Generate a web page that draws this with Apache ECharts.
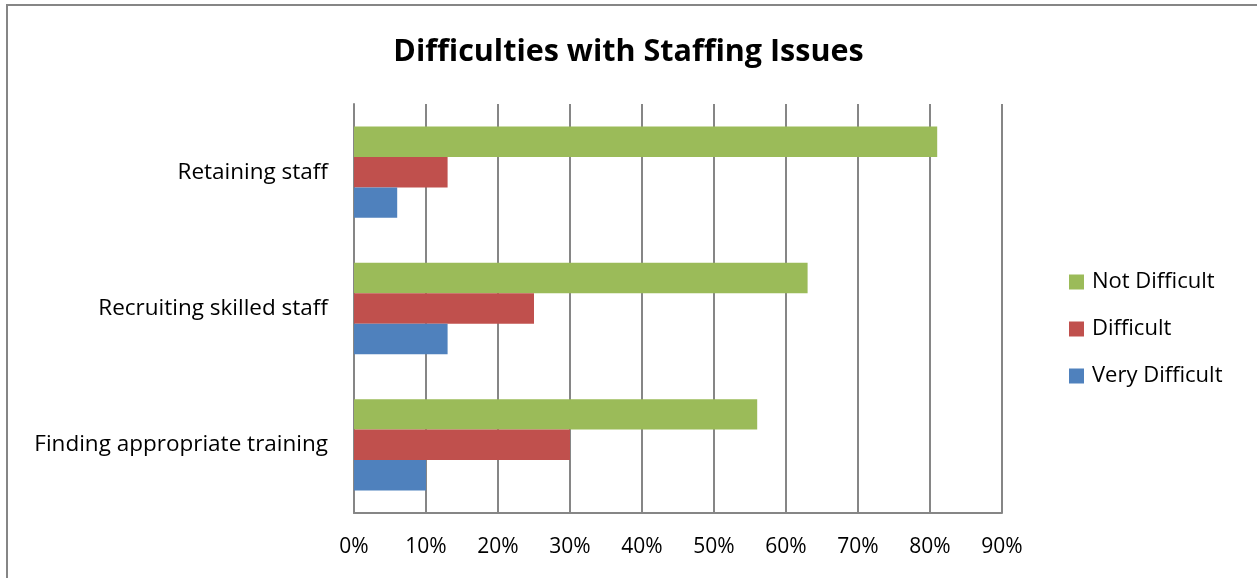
<!DOCTYPE html>
<html>
<head>
<meta charset="utf-8">
<script src="https://cdn.jsdelivr.net/npm/echarts@6/dist/echarts.min.js"></script>
<style>
  html, body { margin: 0; padding: 0; background: #fff; }
  #chart { width: 1257px; height: 578px; }
</style>
</head>
<body>
<div id="chart"></div>
<script>
// Staffing difficulty survey: share of respondents (%) per issue
const categories = ['Finding appropriate training', 'Recruiting skilled staff', 'Retaining staff'];
const veryDifficult = [10, 13, 6];
const difficult = [30, 25, 13];
const notDifficult = [56, 63, 81];
const legendOrder = ['Not Difficult', 'Difficult', 'Very Difficult'];

const FONT = 'Open Sans';
const GRID_COLOR = '#868686';

const chart = echarts.init(document.getElementById('chart'), null, { renderer: 'canvas' });

chart.setOption({
  animation: false,
  backgroundColor: '#ffffff',
  textStyle: { fontFamily: FONT },
  title: {
    text: 'Difficulties with Staffing Issues',
    left: 'center',
    top: 32,
    textStyle: { fontFamily: FONT, fontWeight: 'bold', fontSize: 30.5, color: '#000' }
  },
  graphic: [{
    type: 'rect',
    shape: { x: 7, y: 5, width: 1300, height: 700 },
    style: { fill: 'none', stroke: GRID_COLOR, lineWidth: 2 },
    silent: true
  }],
  legend: {
    orient: 'vertical',
    left: 1069,
    top: 271,
    padding: 0,
    data: legendOrder,
    icon: 'rect',
    itemWidth: 15,
    itemHeight: 15,
    itemGap: 25,
    itemStyle: { borderWidth: 0 },
    textStyle: { fontFamily: FONT, fontSize: 22, color: '#000', padding: [0, 0, 0, 3] }
  },
  grid: { left: 354, right: 255, top: 104, bottom: 65, containLabel: false },
  xAxis: {
    type: 'value',
    min: 0,
    max: 90,
    interval: 10,
    axisLine: { show: true, lineStyle: { color: GRID_COLOR, width: 2 } },
    axisTick: { show: false },
    splitLine: { show: true, lineStyle: { color: GRID_COLOR, width: 2 } },
    axisLabel: { formatter: '{value}%', fontFamily: FONT, fontSize: 21, color: '#000', margin: 24 }
  },
  yAxis: {
    type: 'category',
    data: categories,
    axisLine: { show: true, lineStyle: { color: GRID_COLOR, width: 2 } },
    axisTick: { show: false },
    axisLabel: { fontFamily: FONT, fontSize: 22.5, color: '#000', margin: 26 }
  },
  series: [
    { name: 'Not Difficult', type: 'bar', data: notDifficult, itemStyle: { color: '#9BBB59' }, barGap: '0%', barCategoryGap: '33%' },
    { name: 'Difficult', type: 'bar', data: difficult, itemStyle: { color: '#C0504D' }, barGap: '0%', barCategoryGap: '33%' },
    { name: 'Very Difficult', type: 'bar', data: veryDifficult, itemStyle: { color: '#4F81BD' }, barGap: '0%', barCategoryGap: '33%' }
  ]
});
</script>
</body>
</html>
